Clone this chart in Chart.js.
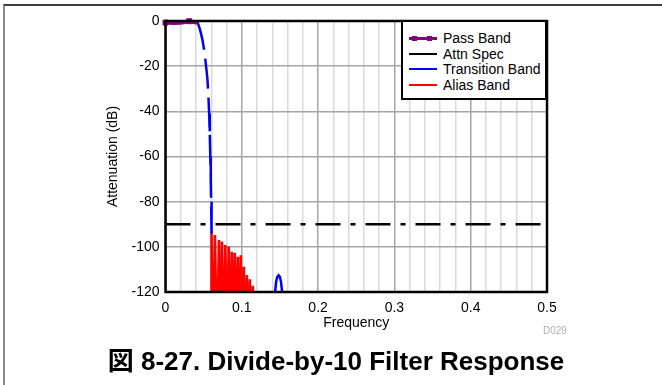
<!DOCTYPE html>
<html>
<head>
<meta charset="utf-8">
<script src="https://cdn.jsdelivr.net/npm/chart.js@4.4.1/dist/chart.umd.min.js"></script>
<style>
  body { margin: 0; background: #fff; font-family: "Liberation Sans", Arial, "Noto Sans CJK JP", sans-serif; }
  #wrap { position: relative; width: 662px; height: 385px; overflow: hidden; }
  #frame { position: absolute; left: 3px; top: 4px; width: 700px; height: 400px; border-top: 2px solid #3c3c3c; border-left: 2px solid #8c8c8c; }
  #chart { position: absolute; left: 0; top: 0; }
  #legend { position: absolute; left: 401px; top: 20px; width: 146px; height: 80px; border: 2px solid #000; background: #fff; box-sizing: border-box; }
  .row { position: absolute; left: 0; height: 16px; line-height: 16px; font-size: 14px; color: #000; white-space: nowrap; }
  .row .txt { position: absolute; left: 40px; top: 0; }
  .row .line { position: absolute; left: 6px; width: 28px; top: 7px; }
  .row .mk { position: absolute; width: 5px; height: 5px; top: -4px; }
  #d029 { position: absolute; left: 543px; top: 325px; font-size: 10px; color: #b0b0b0; }
  #caption { position: absolute; left: 0; width: 672px; top: 346px; text-align: center; font-size: 26px; font-weight: bold; color: #000; line-height: 30px; }
</style>
</head>
<body>
<div id="wrap">
  <div id="frame"></div>
  <canvas id="chart" width="662" height="385"></canvas>
  <div id="legend"></div>
  <div id="d029">D029</div>
  <div id="caption">図 8-27. Divide-by-10 Filter Response</div>
</div>
<script>
// values
const passFreq = [0, 0.01, 0.02, 0.031, 0.038, 0.0435];
const passAtten = [-0.7, -0.9, -0.8, -0.1, -0.6, -0.8];

const specFreq = [0, 0.5];
const specAtten = [-90, -90];

// main roll-off, then a gap (null), then the small lobe near 0.15
const transFreq = [0.0405, 0.0425, 0.0445, 0.0465, 0.0485, 0.0505, 0.052, 0.0535, 0.055, 0.0562, 0.0572, 0.058, 0.0587, 0.0593, 0.0598, 0.0602, 0.0605,
                   0.1,
                   0.1434, 0.1450, 0.1465, 0.1482, 0.1499, 0.1514, 0.1532];
const transAtten = [0, -1, -3, -5.5, -8.5, -12.5, -16.5, -21, -26, -33, -41, -50, -60, -70, -80, -88, -94,
                    null,
                    -121, -115.5, -113.3, -112.6, -113.3, -115.5, -121];

const aliasFreq = [0.0600, 0.0603, 0.0625, 0.0648, 0.0674, 0.0700, 0.0720, 0.0740, 0.0762, 0.0784,
                   0.0806, 0.0828, 0.0848, 0.0869, 0.0888, 0.0908, 0.0928, 0.0948, 0.0967, 0.0987,
                   0.1006, 0.1026, 0.1046, 0.1066, 0.1085, 0.1105, 0.1124, 0.1144, 0.1162];
const aliasAtten = [-150, -93.3, -150, -94.8, -150, -97.0, -150, -97.7, -150, -99.2,
                    -150, -99.9, -150, -102.2, -150, -102.6, -150, -104.4, -150, -103.7,
                    -150, -108.8, -150, -112.5, -150, -114.4, -150, -117.2, -150];

const xTicks = [0, 0.1, 0.2, 0.3, 0.4, 0.5];
const yTicks = [0, -20, -40, -60, -80, -100, -120];

function pts(xs, ys) {
  return xs.map(function (x, i) { return { x: x, y: ys[i] }; });
}

function isMajor(v) {
  return xTicks.some(function (t) { return Math.abs(t - v) < 1e-6; });
}

const font = { family: '"Liberation Sans", Arial, sans-serif', size: 14 };

const datasets = [{
  label: 'Pass Band',
  data: pts(passFreq, passAtten),
  borderColor: '#800080',
  backgroundColor: '#800080',
  borderWidth: 4,
  pointStyle: 'rect',
  pointRadius: function (ctx) { return (ctx.dataIndex === 0 || ctx.dataIndex === 3) ? 3.5 : 0; },
  pointBorderColor: '#800080',
  pointBackgroundColor: '#800080',
  pointBorderWidth: 1,
  clip: false,
  order: 0
}, {
  label: 'Attn Spec',
  data: pts(specFreq, specAtten),
  borderColor: '#000000',
  borderWidth: 2.5,
  borderDash: [25, 10, 5, 10],
  pointRadius: 0,
  order: 3
}, {
  label: 'Transition Band',
  data: pts(transFreq, transAtten),
  borderColor: '#0000ff',
  borderWidth: 2.5,
  pointRadius: 0,
  spanGaps: false,
  segment: {
    borderDash: function (ctx) { return ctx.p0.parsed.x > 0.1 ? [] : [30, 9]; }
  },
  order: 1
}, {
  label: 'Alias Band',
  data: pts(aliasFreq, aliasAtten),
  borderColor: '#ff0000',
  borderWidth: 2.6,
  pointRadius: 0,
  order: 2
}];

const frame = {
  id: 'frame',
  afterDatasetsDraw: function (chart) {
    const a = chart.chartArea;
    const c = chart.ctx;
    c.save();
    c.strokeStyle = '#000';
    c.lineWidth = 2.5;
    c.strokeRect(a.left, a.top, a.right - a.left, a.bottom - a.top);
    c.restore();
  }
};

new Chart(document.getElementById('chart'), {
  type: 'line',
  data: { datasets: datasets },
  plugins: [frame],
  options: {
    responsive: false,
    animation: false,
    devicePixelRatio: 1,
    layout: { padding: { left: 104.5, right: 115, top: 21, bottom: 53 } },
    plugins: { legend: { display: false }, tooltip: { enabled: false } },
    elements: { line: { tension: 0 } },
    scales: {
      x: {
        type: 'linear',
        min: 0,
        max: 0.5,
        afterFit: function (s) { s.height = 40; },
        ticks: {
          stepSize: 0.02,
          font: font,
          color: '#000',
          padding: 8,
          maxRotation: 0,
          autoSkip: false,
          callback: function (v) { return isMajor(v) ? String(Math.round(v * 10) / 10) : ''; }
        },
        grid: {
          drawTicks: false,
          color: function (ctx) { return isMajor(ctx.tick.value) ? '#a6a6a6' : '#dadada'; },
          lineWidth: 1.5
        },
        border: { display: false },
        title: { display: true, text: 'Frequency', font: font, color: '#000', padding: 0 }
      },
      y: {
        type: 'linear',
        min: yTicks[yTicks.length - 1],
        max: yTicks[0],
        afterFit: function (s) { s.width = 61; },
        afterBuildTicks: function (s) { s.ticks = yTicks.map(function (v) { return { value: v }; }); },
        ticks: { font: font, color: '#000', padding: 6 },
        grid: { drawTicks: false, color: '#a6a6a6', lineWidth: 1.5 },
        border: { display: false },
        title: { display: true, text: 'Attenuation (dB)', font: font, color: '#000', padding: 0 }
      }
    }
  }
});

// legend box, built from the same datasets
const legend = document.getElementById('legend');
const rowTops = [8, 24, 39, 55];
datasets.forEach(function (d, i) {
  const row = document.createElement('div');
  row.className = 'row';
  row.style.top = rowTops[i] + 'px';
  const line = document.createElement('div');
  line.className = 'line';
  line.style.borderTop = (i === 0 ? 3 : 2) + 'px solid ' + d.borderColor;
  if (i === 0) {
    [3, 18].forEach(function (l) {
      const m = document.createElement('div');
      m.className = 'mk';
      m.style.left = l + 'px';
      m.style.background = d.borderColor;
      line.appendChild(m);
    });
  }
  const txt = document.createElement('span');
  txt.className = 'txt';
  txt.textContent = d.label;
  row.appendChild(line);
  row.appendChild(txt);
  legend.appendChild(row);
});
</script>
</body>
</html>
